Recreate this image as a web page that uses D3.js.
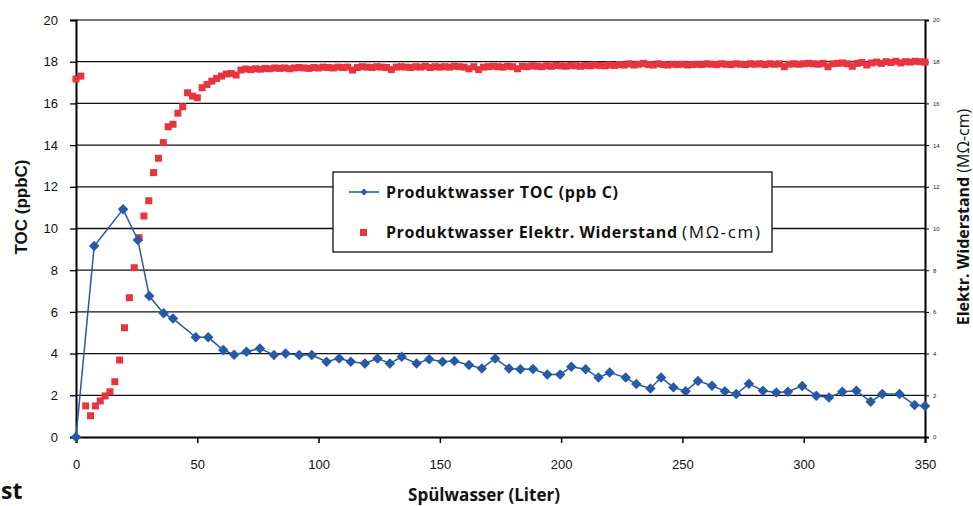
<!DOCTYPE html>
<html>
<head>
<meta charset="utf-8">
<script src="https://cdn.jsdelivr.net/npm/d3@7"></script>
<style>
    body { margin: 0; background: #fff; }
    svg { display: block; }
</style>
</head>
<body>
<script>

// TOC measurements (blue diamonds with line)
var tocX = [0, 7.5, 19.4, 25.5, 30.2, 36.1, 40, 49.4, 54.5, 60.7,
    65.2, 70.3, 75.8, 81.6, 86.4, 92, 97.2, 103.3, 108.5, 113.3,
    119.1, 124.3, 129.4, 134.3, 140.4, 145.6, 151.1, 156, 162, 167.3,
    172.8, 178.5, 183.2, 188.4, 194.3, 199.6, 204.2, 210.1, 215.4, 220,
    226.6, 231, 236.8, 241.2, 246.3, 251.3, 256.4, 262.2, 267.5, 272.2,
    277.4, 283.2, 288.7, 293.5, 299.4, 305.2, 310.4, 315.9, 321.7, 327.6,
    332.4, 339.5, 345.7, 350];
var tocY = [0, 9.16, 10.92, 9.45, 6.76, 5.93, 5.68, 4.78, 4.78, 4.17,
    3.95, 4.09, 4.25, 3.93, 4.01, 3.93, 3.93, 3.61, 3.77, 3.61,
    3.53, 3.77, 3.53, 3.85, 3.53, 3.73, 3.61, 3.64, 3.45, 3.29,
    3.77, 3.29, 3.25, 3.26, 3.0, 3.0, 3.37, 3.25, 2.85, 3.09,
    2.85, 2.54, 2.33, 2.85, 2.38, 2.2, 2.69, 2.46, 2.2, 2.06,
    2.55, 2.22, 2.13, 2.17, 2.45, 1.98, 1.89, 2.17, 2.22, 1.69,
    2.06, 2.06, 1.53, 1.49];

// Resistivity measurements (red squares, right axis)
var resX = [0, 2, 4, 6, 8, 10, 12, 14, 16, 18,
    20, 22, 24, 26, 28, 30, 32, 34, 36, 38,
    40, 42, 44, 46, 48, 50, 52, 54, 56, 58,
    60, 62, 64, 66, 68, 70,
    72, 74, 76, 78, 80, 82, 84, 86, 88, 90,
    92, 94, 96, 98, 100, 102, 104, 106, 108, 110,
    112, 114, 116, 118, 120, 122, 124, 126, 128, 130,
    132, 134, 136, 138, 140, 142, 144, 146, 148, 150,
    152, 154, 156, 158, 160, 162, 164, 166, 168, 170,
    172, 174, 176, 178, 180, 182, 184, 186, 188, 190,
    192, 194, 196, 198, 200, 202, 204, 206, 208, 210,
    212, 214, 216, 218, 220, 222, 224, 226, 228, 230,
    232, 234, 236, 238, 240, 242, 244, 246, 248, 250,
    252, 254, 256, 258, 260, 262, 264, 266, 268, 270,
    272, 274, 276, 278, 280, 282, 284, 286, 288, 290,
    292, 294, 296, 298, 300, 302, 304, 306, 308, 310,
    312, 314, 316, 318, 320, 322, 324, 326, 328, 330,
    332, 334, 336, 338, 340, 342, 344, 346, 348, 350];
var resY = [17.17, 17.31, 1.49, 1.02, 1.49, 1.73, 1.97, 2.17, 2.65, 3.69,
    5.24, 6.68, 8.12, 9.56, 10.6, 11.33, 12.68, 13.37, 14.12, 14.88,
    15.0, 15.53, 15.84, 16.51, 16.35, 16.27, 16.75, 16.91, 17.07, 17.2,
    17.31, 17.41, 17.44, 17.36, 17.6, 17.65,
    17.62, 17.66, 17.64, 17.68, 17.66, 17.7, 17.68, 17.7, 17.66, 17.7,
    17.72, 17.7, 17.68, 17.72, 17.7, 17.74, 17.72, 17.7, 17.74, 17.72,
    17.74, 17.6, 17.72, 17.76, 17.74, 17.72, 17.76, 17.74, 17.72, 17.62,
    17.74, 17.76, 17.74, 17.72, 17.76, 17.74, 17.78, 17.72, 17.76, 17.74,
    17.76, 17.74, 17.78, 17.76, 17.74, 17.66, 17.76, 17.62, 17.74, 17.76,
    17.78, 17.76, 17.74, 17.78, 17.76, 17.66, 17.78, 17.76, 17.8, 17.78,
    17.76, 17.8, 17.78, 17.82, 17.8, 17.78, 17.82, 17.8, 17.78, 17.82,
    17.8, 17.84, 17.82, 17.8, 17.84, 17.82, 17.86, 17.84, 17.9, 17.84,
    17.88, 17.92, 17.86, 17.84, 17.9, 17.86, 17.84, 17.88, 17.86, 17.88,
    17.84, 17.86, 17.88, 17.86, 17.9, 17.88, 17.86, 17.9, 17.88, 17.86,
    17.9, 17.88, 17.86, 17.9, 17.88, 17.9, 17.86, 17.9, 17.88, 17.9,
    17.76, 17.88, 17.9, 17.88, 17.9, 17.92, 17.9, 17.88, 17.92, 17.76,
    17.9, 17.92, 17.94, 17.9, 17.78, 17.92, 17.96, 17.84, 17.94, 17.98,
    17.92, 18.0, 17.96, 18.02, 17.94, 18.0, 17.98, 18.02, 18.0, 17.98];

var xTicks = [0, 50, 100, 150, 200, 250, 300, 350];
var yTicks = [0, 2, 4, 6, 8, 10, 12, 14, 16, 18, 20];

var legendLabels = ["Produktwasser TOC (ppb C)", "Produktwasser Elektr. Widerstand"];
var legendUnit = "(MΩ-cm)";
var xTitle = "Spülwasser (Liter)";
var yTitle = "TOC (ppbC)";
var y2Title = "Elektr. Widerstand";
var y2Unit = "(MΩ-cm)";

var blue = "#2659a6";
var red = "#e8343f";

var w = 973;
var h = 506;

var margin = { top: 20, bottom: 69, left: 76, right: 48 };
var width = w - margin.left - margin.right;
var height = h - margin.top - margin.bottom;

// scales
var x = d3.scaleLinear().domain([0, 350]).range([0, width]);
var y = d3.scaleLinear().domain([0, 20]).range([height, 0]);
var y2 = d3.scaleLinear().domain([0, 20]).range([height, 0]);

var svg = d3.select("body").append("svg")
    .attr("width", w)
    .attr("height", h);

var chart = svg.append("g")
    .attr("transform", "translate(" + margin.left + "," + margin.top + ")");

// horizontal grid lines
chart.selectAll(".grid")
    .data(yTicks.filter(function(d) { return d > 0; }))
    .enter()
        .append("line")
        .attr("x1", 0)
        .attr("x2", width)
        .attr("y1", function(d) { return y(d); })
        .attr("y2", function(d) { return y(d); })
        .style("stroke", function(d) { return d === 20 ? "#7a7a7a" : "#111"; })
        .style("stroke-width", function(d) { return d === 20 ? 2 : 1.3; });

// left axis
var yAxis = d3.axisLeft(y).tickValues(yTicks).tickSize(6).tickPadding(12);
var gy = chart.append("g").call(yAxis);
gy.select(".domain").style("stroke", "#000").style("stroke-width", 2);
gy.selectAll(".tick line").style("stroke", "#000").style("stroke-width", 1.3);
gy.selectAll("text")
    .style("font-family", "'Liberation Sans', Arial, sans-serif")
    .style("font-size", "13px")
    .style("fill", "#111");

// right axis
var y2Axis = d3.axisRight(y2).tickValues(yTicks).tickSize(4).tickPadding(4);
var gy2 = chart.append("g")
    .attr("transform", "translate(" + width + ",0)")
    .call(y2Axis);
gy2.select(".domain").style("stroke", "#000").style("stroke-width", 2);
gy2.selectAll(".tick line").style("stroke", "#000");
gy2.selectAll("text")
    .style("font-family", "'Liberation Sans', Arial, sans-serif")
    .style("font-size", "6px")
    .style("fill", "#222");

// bottom axis
var xAxis = d3.axisBottom(x).tickValues(xTicks).tickSize(6).tickPadding(17);
var gx = chart.append("g")
    .attr("transform", "translate(0," + height + ")")
    .call(xAxis);
gx.select(".domain").style("stroke", "#000").style("stroke-width", 2);
gx.selectAll(".tick line").style("stroke", "#000").style("stroke-width", 1.5);
gx.selectAll("text")
    .style("font-family", "'Liberation Sans', Arial, sans-serif")
    .style("font-size", "13px")
    .style("fill", "#111");

// red squares
var resData = resX.map(function(d, i) { return [d, resY[i]]; });
chart.selectAll(".res")
    .data(resData)
    .enter()
        .append("rect")
        .attr("x", function(d) { return x(d[0]) - 3.5; })
        .attr("y", function(d) { return y2(d[1]) - 3.5; })
        .attr("width", 7)
        .attr("height", 7)
        .style("fill", red);

// blue line + diamonds
var tocData = tocX.map(function(d, i) { return [d, tocY[i]]; });
var line = d3.line()
    .x(function(d) { return x(d[0]); })
    .y(function(d) { return y(d[1]); });

chart.append("path")
    .datum(tocData)
    .attr("d", line)
    .style("fill", "none")
    .style("stroke", blue)
    .style("stroke-width", 1.5);

var diamond = d3.symbol().type(d3.symbolDiamond2).size(70);
chart.selectAll(".toc")
    .data(tocData)
    .enter()
        .append("path")
        .attr("d", diamond)
        .attr("transform", function(d) {
            return "translate(" + x(d[0]) + "," + y(d[1]) + ")";
        })
        .style("fill", blue);

// legend
var legend = svg.append("g").attr("transform", "translate(333,172)");
legend.append("rect")
    .attr("width", 439)
    .attr("height", 80)
    .style("fill", "#fff")
    .style("stroke", "#111")
    .style("stroke-width", 1.3);
legend.append("line")
    .attr("x1", 16).attr("x2", 46)
    .attr("y1", 20).attr("y2", 20)
    .style("stroke", blue)
    .style("stroke-width", 1.5);
legend.append("path")
    .attr("d", d3.symbol().type(d3.symbolDiamond2).size(30))
    .attr("transform", "translate(31,20)")
    .style("fill", blue);
legend.append("rect")
    .attr("x", 27).attr("y", 57)
    .attr("width", 7).attr("height", 7)
    .style("fill", red);

var legWidths = [232, 291];
legend.selectAll(".lt")
    .data(legendLabels)
    .enter()
        .append("text")
        .attr("x", 53)
        .attr("y", function(d, i) { return 26 + i * 40; })
        .attr("textLength", function(d, i) { return legWidths[i]; })
        .attr("lengthAdjust", "spacing")
        .style("font-family", "'Open Sans', sans-serif")
        .style("font-weight", "700")
        .style("font-size", "16px")
        .style("fill", "#111")
        .text(function(d) { return d; });
legend.append("text")
    .attr("x", 349)
    .attr("y", 66)
    .attr("textLength", 78)
    .attr("lengthAdjust", "spacing")
    .style("font-family", "'Open Sans', sans-serif")
    .style("font-size", "17px")
    .style("fill", "#111")
    .text(legendUnit);

// axis titles
svg.append("text")
    .attr("transform", "translate(27,207) rotate(-90)")
    .attr("text-anchor", "middle")
    .style("font-family", "'Liberation Sans', Arial, sans-serif")
    .style("font-weight", "700")
    .style("font-size", "17px")
    .style("fill", "#111")
    .text(yTitle);

svg.append("text")
    .attr("x", 484)
    .attr("y", 501)
    .attr("text-anchor", "middle")
    .style("font-family", "'Open Sans', sans-serif")
    .style("font-weight", "700")
    .style("font-size", "17px")
    .style("fill", "#111")
    .text(xTitle);

var t2 = svg.append("text")
    .attr("transform", "translate(969,217) rotate(-90)")
    .attr("text-anchor", "middle")
    .style("font-family", "'Open Sans', sans-serif")
    .style("font-size", "16px")
    .style("fill", "#111");
t2.append("tspan").style("font-weight", "700").text(y2Title + "  ");
t2.append("tspan").text(y2Unit);

// heading fragment at bottom left
svg.append("text")
    .attr("x", 1)
    .attr("y", 499)
    .style("font-family", "'Open Sans', sans-serif")
    .style("font-weight", "700")
    .style("font-size", "23px")
    .style("fill", "#111")
    .text("st");

</script>
</body>
</html>
